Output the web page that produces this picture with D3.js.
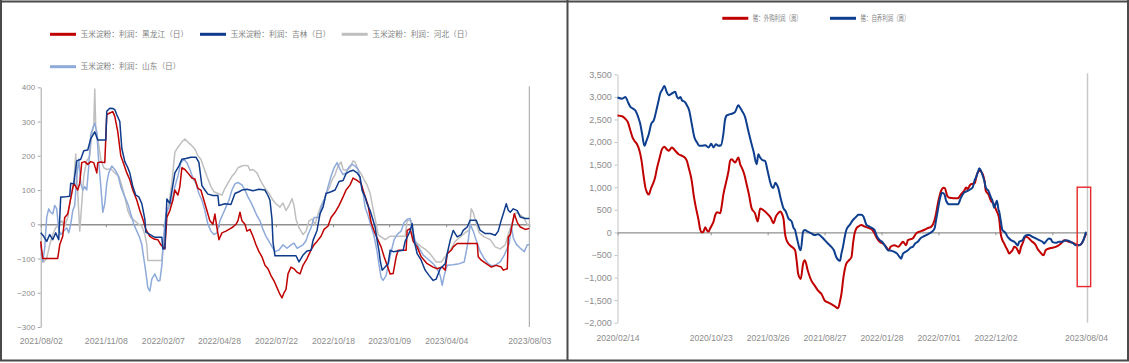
<!DOCTYPE html>
<html>
<head>
<meta charset="utf-8">
<script src="https://cdn.jsdelivr.net/npm/d3@7"></script>
<style>
  body { margin: 0; background: #fff; }
  svg text { font-family: "Liberation Sans", Arial, sans-serif; }
  .legend text { font-family: "Noto Sans CJK SC", sans-serif; fill: #7f7f7f; }
</style>
</head>
<body>
<svg id="chart" width="1129" height="363"></svg>
<script>
// ---- left panel: corn starch profit (daily, x = trading-day index) ----
const cornTicks = [0, 65, 122, 178, 235, 292, 348, 405, 488];
const cornTickLabels = ['2021/08/02', '2021/11/08', '2022/02/07', '2022/04/28', '2022/07/22',
  '2022/10/18', '2023/01/09', '2023/04/04', '2023/08/03'];
const cornYTicks = [-300, -200, -100, 0, 100, 200, 300, 400];
const cornNames = ['玉米淀粉：利润：黑龙江（日）', '玉米淀粉：利润：吉林（日）',
  '玉米淀粉：利润：河北（日）', '玉米淀粉：利润：山东（日）'];
const cornColors = ['#c00000', '#0e3b8c', '#bfbfbf', '#8eaadb'];

const heilongjiang = [[0,-50],[2,-100],[17,-100],[19,-60],[22,-35],[24,20],[27,30],[29,60],[31,90],[33,120],[35,110],[37,100],[39,120],[41,180],[44,183],[47,175],[50,183],[53,180],[56,150],[57,180],[60,182],[64,180],[66,320],[69,325],[72,329],[74,315],[77,270],[80,200],[83,175],[86,150],[89,130],[92,100],[96,70],[99,40],[102,15],[105,-15],[109,-35],[113,-43],[117,-45],[120,-60],[124,-72],[126,20],[129,40],[132,70],[134,100],[137,85],[139,110],[141,165],[144,160],[147,150],[151,135],[154,132],[157,105],[160,100],[163,70],[166,40],[169,10],[172,0],[174,30],[176,-10],[178,-45],[181,-25],[185,-20],[188,-15],[192,-8],[195,0],[197,10],[199,35],[201,10],[204,0],[206,-20],[209,-15],[212,-35],[215,-60],[218,-80],[221,-95],[224,-120],[227,-130],[230,-150],[233,-165],[236,-185],[239,-205],[241,-215],[243,-200],[245,-190],[247,-145],[250,-125],[253,-130],[256,-140],[259,-145],[262,-120],[266,-100],[270,-75],[273,-60],[276,-50],[280,-35],[283,-15],[287,-5],[290,20],[294,35],[298,55],[302,80],[305,100],[309,115],[312,135],[316,128],[320,119],[323,90],[327,55],[330,5],[333,-20],[336,-40],[340,-66],[343,-95],[346,-120],[349,-145],[352,-144],[355,-95],[357,-76],[365,-76],[366,-18],[369,-13],[372,-50],[376,-66],[380,-95],[386,-115],[392,-125],[396,-130],[401,-125],[404,-134],[406,-86],[410,-76],[412,-66],[416,-56],[436,-56],[437,-95],[440,-105],[445,-115],[450,-125],[455,-120],[460,-125],[462,-134],[466,-130],[467,-37],[469,-30],[473,31],[476,5],[479,-8],[484,-15],[488,-12]];

const jilin = [[0,-25],[3,-35],[6,-50],[9,-30],[12,-45],[15,-25],[18,-45],[20,80],[24,80],[29,82],[30,120],[33,118],[36,185],[40,190],[43,215],[47,217],[50,250],[54,270],[57,246],[65,246],[66,330],[69,339],[72,338],[74,335],[76,320],[79,300],[81,222],[84,183],[87,165],[89,150],[92,110],[95,85],[98,80],[101,60],[104,15],[105,-23],[108,-28],[111,-33],[114,-38],[121,-38],[122,-72],[124,-70],[126,74],[129,60],[134,150],[138,170],[141,190],[145,192],[150,196],[155,196],[158,181],[161,113],[164,100],[167,88],[172,84],[177,84],[178,55],[184,60],[190,58],[194,90],[198,95],[201,100],[206,102],[212,98],[218,102],[224,100],[227,84],[229,70],[231,15],[232,-52],[234,-92],[255,-92],[258,-110],[262,-90],[266,-78],[270,-76],[272,-47],[276,-18],[279,31],[282,50],[285,90],[290,95],[294,100],[298,125],[302,128],[305,148],[309,155],[312,158],[316,150],[319,138],[321,99],[324,80],[326,60],[329,40],[331,21],[334,-8],[336,-47],[338,-80],[339,-105],[341,-134],[344,-125],[347,-115],[349,-76],[352,-80],[362,-76],[364,-50],[367,-32],[369,-18],[371,2],[373,-47],[376,-86],[380,-105],[384,-134],[388,-150],[392,-164],[395,-160],[399,-130],[404,-115],[406,-86],[409,-47],[412,-18],[416,-37],[420,-30],[422,-18],[426,-8],[429,12],[435,12],[439,-18],[444,-27],[449,-27],[454,-32],[457,-20],[460,12],[463,40],[465,60],[467,41],[469,35],[472,45],[476,40],[479,21],[484,17],[488,17]];

const hebei = [[0,-85],[3,-110],[6,-100],[9,-60],[12,-30],[15,-10],[18,0],[21,10],[24,-5],[27,20],[30,80],[33,120],[35,205],[37,90],[39,-20],[41,60],[43,140],[46,185],[49,200],[51,260],[53,290],[54,395],[55,280],[57,250],[60,190],[63,165],[66,160],[70,162],[74,150],[78,140],[81,113],[84,80],[87,40],[90,20],[94,10],[98,0],[101,-5],[104,-30],[106,-60],[107,-106],[121,-106],[123,-40],[125,16],[128,60],[131,120],[134,210],[137,225],[141,240],[144,249],[147,240],[150,232],[154,220],[157,200],[160,190],[163,165],[166,140],[170,110],[173,95],[177,90],[181,85],[184,105],[187,120],[191,140],[194,150],[197,165],[201,170],[204,172],[207,171],[209,158],[212,160],[216,150],[220,125],[224,105],[228,90],[232,70],[235,60],[239,50],[242,62],[245,40],[248,55],[251,75],[253,55],[255,15],[258,-10],[262,-30],[265,-20],[268,10],[271,15],[274,0],[277,30],[280,55],[283,60],[285,90],[288,105],[291,130],[294,145],[297,170],[300,182],[302,160],[305,158],[309,165],[312,185],[314,182],[317,160],[320,148],[323,130],[326,115],[329,90],[331,60],[333,30],[335,2],[337,-30],[340,-37],[344,-45],[349,-35],[364,-35],[366,12],[370,10],[372,-40],[376,-56],[380,-65],[385,-75],[390,-90],[395,-110],[400,-110],[404,-95],[409,-76],[414,-50],[419,-37],[425,-22],[428,-18],[430,45],[432,35],[434,12],[438,-25],[443,-37],[449,-45],[454,-66],[459,-72],[464,-60],[468,-20],[472,15],[475,35],[477,31],[482,21],[486,0],[488,-5]];

const shandong = [[0,-60],[2,-110],[4,-70],[6,20],[8,45],[10,35],[12,30],[14,55],[16,45],[18,-15],[20,-30],[23,-20],[26,-10],[28,-25],[30,0],[32,40],[34,55],[36,140],[38,190],[40,120],[42,100],[44,110],[46,100],[48,170],[50,262],[52,280],[54,295],[56,270],[58,180],[60,113],[62,35],[64,60],[66,120],[68,150],[71,170],[74,160],[77,145],[80,110],[84,80],[87,60],[90,30],[93,0],[96,-20],[99,-40],[101,-60],[103,-100],[105,-140],[107,-185],[109,-195],[111,-160],[114,-145],[117,-165],[119,-165],[121,-120],[123,-30],[125,30],[128,50],[131,65],[134,110],[137,140],[140,180],[143,190],[146,180],[149,160],[152,135],[155,120],[158,90],[161,70],[164,40],[167,0],[170,-20],[173,-30],[176,-25],[179,10],[182,30],[185,50],[188,70],[191,100],[194,118],[197,122],[201,115],[204,100],[207,80],[210,64],[213,45],[216,25],[219,10],[222,-15],[225,-35],[228,-50],[231,-65],[234,-80],[238,-75],[242,-60],[246,-70],[250,-60],[253,-55],[256,-70],[259,-65],[262,-60],[265,-48],[267,-30],[270,-10],[273,20],[278,20],[281,60],[284,78],[287,110],[290,140],[293,165],[296,180],[299,160],[302,145],[305,150],[308,168],[311,175],[314,170],[317,160],[319,130],[322,90],[324,50],[327,25],[330,-5],[333,-35],[336,-80],[338,-120],[340,-155],[342,-164],[345,-150],[347,-120],[350,-80],[353,-45],[356,-30],[360,-20],[363,5],[366,15],[369,17],[371,-10],[374,-50],[378,-70],[382,-90],[386,-100],[392,-115],[396,-130],[399,-150],[401,-178],[403,-150],[406,-120],[412,-118],[418,-115],[423,-110],[425,-80],[427,-47],[429,0],[432,-20],[435,-47],[439,-80],[443,-100],[447,-115],[451,-122],[455,-118],[459,-110],[463,-90],[466,-70],[468,-55],[470,-5],[472,-40],[475,-58],[479,-70],[483,-80],[486,-60],[488,-60]];

// ---- right panel: hog profit (weekly, x = week index from 2020/02/14) ----
const hogTicks = [0, 36, 58, 80, 102, 124, 146, 168, 181];
const hogTickLabels = ['2020/02/14', '2020/10/23', '2021/03/26', '2021/08/27', '2022/01/28',
  '2022/07/01', '2022/12/02', '', '2023/08/04'];
const hogYTicks = [-2000, -1500, -1000, -500, 0, 500, 1000, 1500, 2000, 2500, 3000, 3500];
const hogNames = ['猪：外购利润（周）', '猪：自养利润（周）'];
const hogColors = ['#c00000', '#0e3f8f'];
// highlighted box: [week from, week to, top value, bottom value]
const hogHighlight = [177.6, 182.8, 1000, -1200];

const hogBought = [[0,2590],[1.8,2570],[3,2515],[4,2440],[5,2250],[5.8,2105],[6.5,2030],[7.5,1955],[8.5,1806],[9.3,1582],[10,1283],[10.8,985],[11.5,873],[12.1,836],[13,985],[13.6,1060],[14.5,1209],[15.3,1433],[16.3,1657],[17.2,1843],[18.1,1895],[19,1843],[19.8,1806],[21,1880],[22.3,1806],[23.6,1731],[24.9,1694],[26,1657],[26.8,1582],[27.5,1433],[28.7,1134],[29.4,836],[30.2,575],[31.3,276],[32,52],[32.6,0],[33.2,15],[33.9,112],[34.5,52],[35.2,15],[35.8,90],[36.5,164],[37.1,239],[37.8,388],[38.4,448],[39.7,425],[40.3,600],[40.9,836],[41.9,1100],[42.9,1358],[43.5,1582],[44.1,1620],[45.4,1545],[46.7,1657],[47.4,1507],[48,1433],[49,1283],[49.9,1060],[50.8,836],[51.8,537],[53.1,425],[54.2,240],[55.1,530],[57,463],[58.3,388],[59.3,313],[60.2,201],[61.2,350],[62.1,425],[62.8,460],[63.7,388],[64.2,276],[64.7,-22],[65.3,-170],[66,-246],[67.3,-320],[68.6,-395],[69.2,-619],[69.8,-918],[70.8,-1030],[71.7,-694],[72.4,-619],[73.5,-843],[74.9,-1067],[76.2,-1179],[77.5,-1291],[78.8,-1366],[80.1,-1515],[81.3,-1552],[82.6,-1590],[84,-1640],[85.2,-1679],[86,-1515],[86.5,-1366],[87.3,-993],[88.4,-694],[89.4,-619],[90.4,-545],[91,-246],[91.6,-22],[92.3,90],[93,127],[94.2,164],[95.5,127],[97.4,90],[98.5,52],[99.3,-22],[100.3,-134],[101.3,-209],[102.5,-246],[103.8,-321],[104.8,-396],[105.5,-320],[107,-284],[108.5,-321],[109.6,-246],[110.3,-209],[111.5,-284],[112.2,-172],[114.1,-134],[115.4,-22],[116.7,15],[118.4,52],[119.7,90],[121.2,127],[122.5,276],[123.1,425],[123.7,620],[124.4,800],[125,918],[126,990],[126.5,978],[127.4,806],[128.2,769],[131.5,754],[132.7,843],[133.9,918],[134.7,993],[135.3,955],[136,1030],[136.6,1067],[138,1090],[138.9,1291],[139.8,1366],[140.4,1350],[141.1,1291],[141.8,1142],[142.3,918],[143.3,843],[144.3,694],[145.5,620],[146.2,508],[147,400],[147.4,321],[148.1,-50],[148.7,-172],[149.4,-246],[150,-321],[150.7,-396],[151.3,-470],[152,-433],[152.6,-396],[153.3,-321],[153.9,-330],[154.6,-396],[155.2,-470],[155.9,-321],[156.5,-246],[157.2,-130],[157.8,-97],[159,-134],[159.6,-172],[160.3,-209],[161.6,-284],[162.2,-358],[163.2,-433],[164.6,-507],[165.4,-396],[166.7,-358],[168,-340],[169.3,-321],[170.5,-284],[171.3,-246],[172.6,-172],[174.4,-209],[176,-231],[177,-261],[178.3,-284],[179.3,-250],[180,-172],[181,-22]];

const hogSelfBred = [[0,2985],[1.8,2960],[3.1,3000],[4,2890],[5,2776],[6,2740],[6.9,2700],[7.5,2627],[8.2,2515],[8.8,2400],[9.5,2180],[10.4,1918],[11.2,2030],[12.1,2180],[13,2400],[14,2478],[15,2700],[15.9,2925],[16.5,3075],[17.2,3150],[18.1,3239],[19,3112],[19.8,3037],[21,3075],[22.3,3112],[23,3000],[23.6,2963],[24.3,3000],[24.9,2925],[26,2888],[26.8,2813],[27.7,2700],[28.7,2400],[29.7,2104],[30.7,1993],[31.6,1918],[32.6,1918],[33.9,1930],[35.2,1880],[36.2,1960],[37.1,1880],[38,1950],[39,1918],[40,1930],[40.9,2179],[41.5,2478],[42.2,2590],[43.1,2610],[44.1,2627],[45.4,2664],[46.7,2813],[47.4,2760],[48,2700],[49.3,2552],[50.5,2254],[51.8,1955],[52.5,1806],[53.8,1507],[54.4,1731],[55.1,1657],[56,1600],[57,1582],[58,1358],[58.9,1134],[59.5,1022],[60.2,985],[61,1097],[61.5,1060],[62.1,985],[63,761],[64.1,537],[65,463],[66,313],[67.3,239],[68,100],[68.6,52],[69.2,-97],[69.8,-246],[70.3,-358],[70.8,-396],[71.7,15],[72.4,52],[73.5,15],[74.9,-22],[76.2,-60],[77.5,-40],[78.8,-97],[80.1,-172],[81.3,-246],[82.6,-321],[83.6,-396],[84.5,-545],[85.5,-619],[86,-630],[86.5,-470],[87.1,-321],[87.8,-97],[88.4,52],[89.1,127],[89.7,164],[90.5,239],[91.6,313],[92.3,350],[93,388],[94.2,390],[95,350],[95.5,276],[96.2,164],[97.4,127],[98.5,90],[99.3,52],[100.3,-97],[101.3,-172],[102.2,-209],[103.2,-284],[104.5,-396],[106,-410],[107,-433],[108,-470],[109,-545],[109.6,-582],[110.3,-470],[111.2,-433],[112.2,-396],[113.2,-340],[114.1,-321],[115,-246],[116,-209],[117,-134],[118,-97],[119.3,-60],[120.5,-22],[121.5,15],[122.5,90],[123.1,276],[123.7,470],[124.4,700],[125,843],[125.4,880],[126.3,843],[127,694],[128.2,620],[131.5,620],[132.7,770],[133.9,880],[135.3,918],[136.3,955],[137.2,993],[137.9,1142],[138.5,1216],[139.2,1328],[139.8,1420],[140.4,1366],[141.1,1254],[141.7,1142],[142.3,993],[143.3,918],[144.3,769],[144.9,694],[145.5,545],[146.6,700],[147.2,500],[147.4,470],[148.1,246],[148.7,52],[149.4,15],[150,-22],[150.7,-97],[151.3,-134],[152,-172],[152.6,-190],[153.3,-209],[153.9,-246],[154.6,-290],[155.2,-209],[156.5,-172],[157.2,-97],[158.3,-60],[159,-60],[160.3,-97],[161.6,-134],[162.9,-172],[164.2,-209],[164.9,-246],[165.4,-209],[166.7,-134],[167.4,-150],[168,-209],[169.3,-231],[170.6,-209],[171.9,-209],[173.2,-172],[174.4,-187],[175,-209],[176,-240],[177,-284],[178.3,-284],[179.3,-246],[180,-172],[181,15]];

const svg = d3.select('#chart');
const labelColor = '#8c8c8c';

function drawPanel(o) {
  const x = d3.scaleLinear().domain(o.xDomain).range(o.xRange);
  const y = d3.scaleLinear().domain(o.yDomain).range(o.yRange);
  const g = svg.append('g');

  // y axis
  const yAxis = g.append('g')
    .attr('transform', `translate(${o.xRange[0]},0)`)
    .call(d3.axisLeft(y).tickValues(o.yTicks).tickSize(3).tickSizeOuter(0)
      .tickPadding(o.yPadding).tickFormat(o.yFormat));
  yAxis.attr('font-family', null).attr('font-size', null);
  yAxis.select('.domain').attr('stroke', o.yAxisColor);
  yAxis.selectAll('.tick line').attr('stroke', o.yAxisColor);
  yAxis.selectAll('text').attr('fill', labelColor).style('font-size', `${o.yFontSize}px`);

  // zero line with ticks
  const zero = g.append('g')
    .attr('transform', `translate(0,${y(0)})`)
    .call(d3.axisBottom(x).tickValues(o.xTicks).tickSize(3).tickSizeOuter(0).tickFormat(''));
  zero.select('.domain').attr('stroke', '#8f8f8f').attr('stroke-width', 1.3);
  zero.selectAll('.tick line').attr('stroke', '#8f8f8f');

  // date labels along the bottom
  const labels = g.append('g')
    .attr('transform', `translate(0,${o.labelY})`)
    .call(d3.axisBottom(x).tickValues(o.xTicks).tickSize(0).tickPadding(3)
      .tickFormat((d, i) => o.xLabels[i]));
  labels.attr('font-family', null).attr('font-size', null);
  labels.select('.domain').remove();
  labels.selectAll('text')
    .attr('fill', labelColor)
    .style('font-size', '9.5px')
    .filter(function () { return this.textContent !== ''; })
    .attr('textLength', 43)
    .attr('lengthAdjust', 'spacingAndGlyphs');

  // vertical marker at the last date
  g.append('line')
    .attr('x1', x(o.xDomain[1]) + o.markerShift)
    .attr('x2', x(o.xDomain[1]) + o.markerShift)
    .attr('y1', o.yRange[1] - 1)
    .attr('y2', o.yRange[0])
    .attr('stroke', o.markerColor)
    .attr('stroke-width', o.markerWidth);

  const line = d3.line()
    .x(d => x(d[0]))
    .y(d => y(d[1]))
    .curve(o.curve);

  o.drawOrder.forEach(i => {
    g.append('path')
      .datum(o.series[i])
      .attr('fill', 'none')
      .attr('stroke', o.colors[i])
      .attr('stroke-width', o.lineWidth)
      .attr('stroke-linejoin', 'round')
      .attr('d', line);
  });

  // legend
  const legend = g.append('g').attr('class', 'legend');
  o.names.forEach((name, i) => {
    const [lx, ly] = o.legendSlots[i];
    legend.append('line')
      .attr('x1', lx).attr('x2', lx + 26)
      .attr('y1', ly).attr('y2', ly)
      .attr('stroke', o.colors[i])
      .attr('stroke-width', 3);
    const t = legend.append('text')
      .attr('x', lx + 30.5)
      .attr('y', ly)
      .attr('dy', '0.36em')
      .style('font-size', `${o.legendFontSize}px`)
      .text(name);
    if (o.legendTextLength) {
      t.attr('textLength', o.legendTextLength).attr('lengthAdjust', 'spacingAndGlyphs');
    }
  });

  return { x, y, g };
}

drawPanel({
  xDomain: [0, 488],
  xRange: [40.7, 529.3],
  yDomain: [-300, 400],
  yRange: [327, 87.3],
  yTicks: cornYTicks,
  yFormat: d3.format('d'),
  yPadding: 2.5,
  yFontSize: 8,
  yAxisColor: '#a6a6a6',
  xTicks: cornTicks,
  xLabels: cornTickLabels,
  labelY: 334.4,
  markerShift: 0,
  markerColor: '#a0a0a0',
  markerWidth: 1,
  curve: d3.curveLinear,
  lineWidth: 1.5,
  series: [heilongjiang, jilin, hebei, shandong],
  colors: cornColors,
  names: cornNames,
  drawOrder: [2, 3, 0, 1],
  legendSlots: [[50, 34.3], [200, 34.3], [341.7, 34.3], [50, 66.7]],
  legendFontSize: 7.7,
});

const hog = drawPanel({
  xDomain: [0, 181],
  xRange: [617.5, 1086],
  yDomain: [-2000, 3500],
  yRange: [322.7, 74.3],
  yTicks: hogYTicks,
  yFormat: d3.format(','),
  yPadding: 2.8,
  yFontSize: 9,
  yAxisColor: '#c4c4c4',
  xTicks: hogTicks,
  xLabels: hogTickLabels,
  labelY: 331.4,
  markerShift: 1.5,
  markerColor: '#c8c8c8',
  markerWidth: 1.5,
  curve: d3.curveMonotoneX,
  lineWidth: 2,
  series: [hogBought, hogSelfBred],
  colors: hogColors,
  names: hogNames,
  drawOrder: [0, 1],
  legendSlots: [[722.3, 18.3], [830, 18.3]],
  legendFontSize: 8,
  legendTextLength: 49,
});

// red highlight box on the latest weeks
hog.g.append('rect')
  .attr('x', hog.x(hogHighlight[0]))
  .attr('y', hog.y(hogHighlight[2]))
  .attr('width', hog.x(hogHighlight[1]) - hog.x(hogHighlight[0]))
  .attr('height', hog.y(hogHighlight[3]) - hog.y(hogHighlight[2]))
  .attr('fill', 'none')
  .attr('stroke', '#e8262b')
  .attr('stroke-width', 1.4);

// panel frame
const frame = svg.append('g').attr('stroke', '#4a4a4a').attr('stroke-width', 2);
frame.append('line').attr('x1', 0).attr('x2', 1129).attr('y1', 1.5).attr('y2', 1.5);
frame.append('line').attr('x1', 0).attr('x2', 1129).attr('y1', 360.5).attr('y2', 360.5);
frame.append('line').attr('x1', 1).attr('x2', 1).attr('y1', 0).attr('y2', 361);
frame.append('line').attr('x1', 567.5).attr('x2', 567.5).attr('y1', 0).attr('y2', 361);
frame.append('line').attr('x1', 1128).attr('x2', 1128).attr('y1', 0).attr('y2', 361);
</script>
</body>
</html>
